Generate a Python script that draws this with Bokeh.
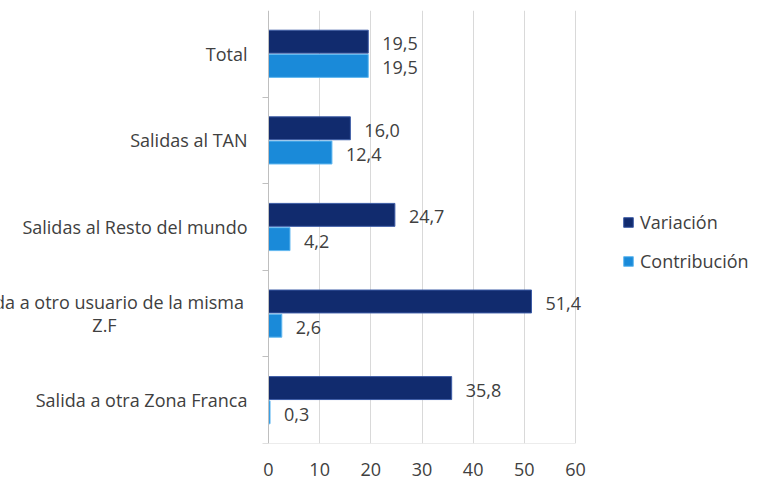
from bokeh.plotting import figure
from bokeh.models import (ColumnDataSource, Range1d, FixedTicker, LabelSet, Label,
                          Legend, LegendItem)
from bokeh.core.properties import value
from bokeh.embed import file_html
from bokeh.resources import INLINE

# ---- data (bottom to top) ----
categories = ["Salida a otra Zona Franca",
              "Salida a otro usuario de la misma\nZ.F",
              "Salidas al Resto del mundo",
              "Salidas al TAN",
              "Total"]
variacion = [35.8, 51.4, 24.7, 16.0, 19.5]
contribucion = [0.3, 2.6, 4.2, 12.4, 19.5]
x_ticks = [0, 10, 20, 30, 40, 50, 60]
series_names = ["Variación", "Contribución"]

FONT = "Open Sans"
FS = "18px"
TXT = "#404040"
DARK = "#112b6e"
DARK_EDGE = "#3d5ca6"
LIGHT = "#1a8ad9"
LIGHT_EDGE = "#62b8f0"

W, H = 757, 481
X0_PX, X60_PX = 268, 575          # where 0 and 60 sit
ppu = (X60_PX - X0_PX) / (x_ticks[-1] - x_ticks[0])

n = len(categories)
centers = [i + 0.5 for i in range(n)]
off = 0.14
bh = 0.265

def fmt(v):
    return f"{v:.1f}".replace(".", ",")

src = ColumnDataSource(dict(
    cat=categories,
    yc=centers,
    yv=[c + off for c in centers],
    yk=[c - off for c in centers],
    var=variacion,
    con=contribucion,
    var_lbl=[fmt(v) for v in variacion],
    con_lbl=[fmt(v) for v in contribucion],
))

p = figure(width=W, height=H,
           x_range=Range1d(-X0_PX / ppu, (W - X0_PX) / ppu),
           y_range=Range1d(0, n),
           output_backend="svg", toolbar_location=None,
           min_border_left=0, min_border_right=0, min_border_top=10,
           min_border_bottom=38)
p.outline_line_color = None
p.background_fill_color = "white"
p.border_fill_color = "white"

r_var = p.hbar(y="yv", right="var", left=0, height=bh, source=src,
               fill_color=DARK, line_color=DARK_EDGE, line_width=1)
r_con = p.hbar(y="yk", right="con", left=0, height=bh, source=src,
               fill_color=LIGHT, line_color=LIGHT_EDGE, line_width=1)

# bottom baseline of the plot area
p.segment(x0=[x_ticks[0]], x1=[x_ticks[-1]], y0=[0], y1=[0],
          line_color="#d9d9d9", line_width=1)

# axes
p.xaxis.ticker = FixedTicker(ticks=x_ticks)
p.xaxis.axis_line_color = None
p.xaxis.major_tick_line_color = None
p.xaxis.minor_tick_line_color = None
p.xaxis.major_label_text_font = FONT
p.xaxis.major_label_text_font_size = FS
p.xaxis.major_label_text_color = TXT
p.xaxis.major_label_standoff = 13

p.yaxis.fixed_location = 0
p.yaxis.ticker = FixedTicker(ticks=list(range(n)))
p.yaxis.axis_line_color = "#bfbfbf"
p.yaxis.major_tick_line_color = "#bfbfbf"
p.yaxis.major_tick_out = 6
p.yaxis.major_tick_in = 0
p.yaxis.minor_tick_line_color = None
p.yaxis.major_label_overrides = {i: "" for i in range(n)}
p.yaxis.major_label_standoff = 0

p.xgrid.ticker = FixedTicker(ticks=x_ticks[1:])
p.xgrid.grid_line_color = "#d9d9d9"
p.ygrid.grid_line_color = None

# data labels
for ycol, xcol, lcol in (("yv", "var", "var_lbl"), ("yk", "con", "con_lbl")):
    p.add_layout(LabelSet(x=xcol, y=ycol, text=lcol, source=src, x_offset=14, y_offset=-2,
                          text_baseline="middle", text_align="left",
                          text_font=value(FONT), text_font_size=FS, text_color=TXT))

# category labels
single = [i for i, c in enumerate(categories) if "\n" not in c]
src_cat = ColumnDataSource(dict(x=[0] * len(single), y=[centers[i] for i in single],
                                t=[categories[i] for i in single]))
p.add_layout(LabelSet(x="x", y="y", text="t", source=src_cat, x_offset=-21,
                      text_align="right", text_baseline="middle",
                      text_font=value(FONT), text_font_size=FS, text_color=TXT))
for i, c in enumerate(categories):
    if "\n" in c:
        p.add_layout(Label(x=0, y=centers[i], text=c, x_offset=-164,
                           text_align="center", text_baseline="middle",
                           text_font=FONT, text_font_size=FS, text_color=TXT,
                           text_line_height=0.95))

legend = Legend(items=[LegendItem(label=series_names[0], renderers=[r_var]),
                       LegendItem(label=series_names[1], renderers=[r_con])],
                location=(622, 170), orientation="vertical",
                padding=0, margin=0, spacing=15,
                glyph_width=12, glyph_height=12, label_standoff=6,
                label_text_font=FONT, label_text_font_size=FS,
                label_text_color=TXT, border_line_alpha=0,
                background_fill_alpha=0)
p.add_layout(legend, "center")

open("out.html", "w").write(file_html(p, INLINE))
